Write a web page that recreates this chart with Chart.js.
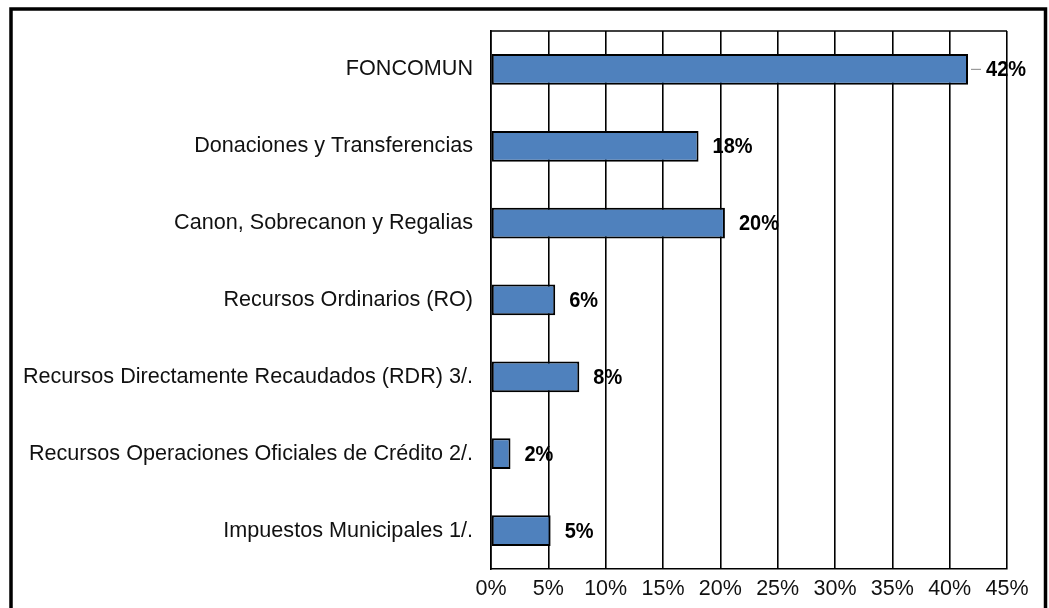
<!DOCTYPE html>
<html>
<head>
<meta charset="utf-8">
<script src="https://cdn.jsdelivr.net/npm/chart.js@4/dist/chart.umd.min.js"></script>
<style>
  html, body { margin: 0; padding: 0; background: #fff; }
  #wrap { width: 1049px; height: 608px; position: relative; }
</style>
</head>
<body>
<div id="wrap"><canvas id="c" width="1049" height="608"></canvas></div>
<script>
const categories = [
  "FONCOMUN",
  "Donaciones y Transferencias",
  "Canon, Sobrecanon y Regalias",
  "Recursos Ordinarios (RO)",
  "Recursos Directamente Recaudados (RDR) 3/.",
  "Recursos Operaciones Oficiales de Crédito 2/.",
  "Impuestos Municipales 1/."
];
const shares = [41.6, 18.1, 20.4, 5.6, 7.7, 1.7, 5.2];
const xTicks = [0, 5, 10, 15, 20, 25, 30, 35, 40, 45];

const FONT = "'Liberation Sans', Arial, sans-serif";

const framePlugin = {
  id: 'frame',
  afterDraw(chart) {
    const ctx = chart.ctx;
    const a = chart.chartArea;
    ctx.save();
    ctx.strokeStyle = '#000';
    ctx.lineWidth = 1.5;
    ctx.beginPath();
    ctx.moveTo(a.left, a.top);
    ctx.lineTo(a.right, a.top);
    ctx.stroke();
    ctx.lineWidth = 3.5;
    ctx.strokeRect(11, 9, 1034.5, 700);
    ctx.restore();
  }
};

const valueLabelPlugin = {
  id: 'valueLabels',
  afterDatasetsDraw(chart, args, opts) {
    const ctx = chart.ctx;
    const meta = chart.getDatasetMeta(0);
    meta.data.forEach((bar, i) => {
      const v = chart.data.datasets[0].data[i];
      const txt = Math.round(v) + '%';
      const leader = opts.leaderIndex === i;
      const off = leader ? 18 : 14;
      ctx.save();
      if (leader) {
        ctx.strokeStyle = '#9a9a9a';
        ctx.lineWidth = 1.2;
        ctx.beginPath();
        ctx.moveTo(bar.x + 3, bar.y);
        ctx.lineTo(bar.x + 13, bar.y);
        ctx.stroke();
      }
      ctx.font = "bold 20px " + FONT;
      ctx.fillStyle = '#000';
      ctx.textBaseline = 'middle';
      ctx.textAlign = 'left';
      ctx.translate(bar.x + off, bar.y + 1);
      ctx.scale(1, 1.08);
      ctx.fillText(txt, 0, 0);
      ctx.restore();
    });
  }
};

new Chart(document.getElementById('c'), {
  type: 'bar',
  data: {
    labels: categories,
    datasets: [{
      data: shares,
      backgroundColor: '#4F81BD',
      borderColor: '#000',
      borderWidth: 2,
      borderSkipped: false,
      barPercentage: 0.4,
      categoryPercentage: 1
    }]
  },
  options: {
    indexAxis: 'y',
    responsive: false,
    animation: false,
    devicePixelRatio: 1,
    layout: { padding: { top: 30, right: 42, left: 0, bottom: 0 } },
    plugins: {
      legend: { display: false },
      tooltip: { enabled: false },
      valueLabels: { leaderIndex: 0 }
    },
    scales: {
      x: {
        min: 0,
        max: 45,
        afterBuildTicks(scale) { scale.ticks = xTicks.map(v => ({ value: v })); },
        afterFit(scale) { scale.height = 39; },
        ticks: {
          callback: v => v + '%',
          font: { family: FONT, size: 21.5 },
          color: '#111',
          padding: 7,
          maxRotation: 0,
          autoSkip: false
        },
        grid: { color: '#000', lineWidth: 1.6, drawTicks: false },
        border: { display: true, color: '#000', width: 1.6 }
      },
      y: {
        afterFit(scale) { scale.width = 491; },
        ticks: {
          font: { family: FONT, size: 21.6 },
          color: '#111',
          padding: 18,
          autoSkip: false
        },
        grid: { display: false, drawTicks: false },
        border: { display: true, color: '#000', width: 1.6 }
      }
    }
  },
  plugins: [framePlugin, valueLabelPlugin]
});
</script>
</body>
</html>
